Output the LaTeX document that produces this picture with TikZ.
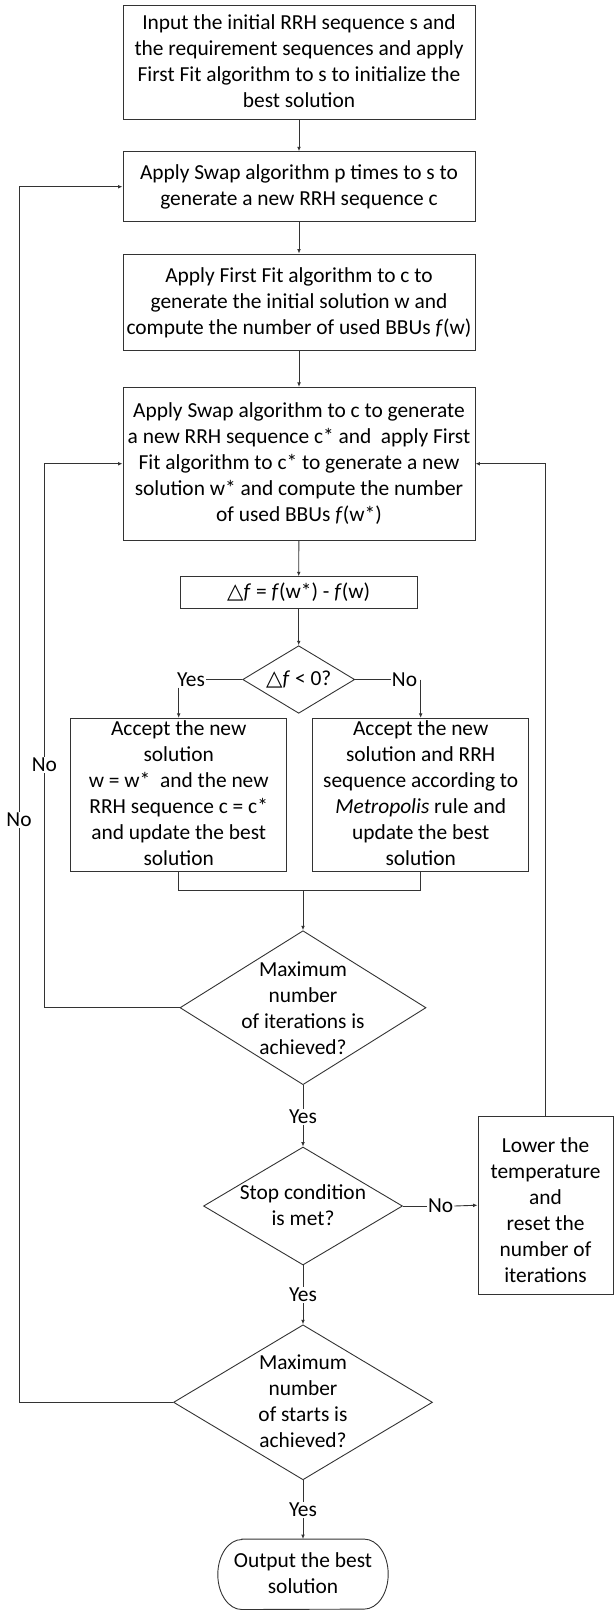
\documentclass[tikz,border=0pt]{standalone}
\usepackage{fontspec}
\setmainfont{Carlito}
\newfontfamily\dvfont{DejaVu Sans}
\usetikzlibrary{arrows.meta,shapes.geometric}
\newcommand{\tri}{{\dvfont △}}
\newcommand{\dlab}[3][0]{\makebox[0pt]{\raisebox{\dimexpr 13pt*\numexpr#2-1\relax-6pt-#1pt\relax}[0pt][0pt]{\begin{tabular}[t]{@{}c@{}}#3\end{tabular}}}}
\tikzset{
  ln/.style={line width=0.9pt, draw=black!80},
  arr/.style={ln, -{Latex[length=4.5pt,width=3.8pt]}},
  box/.style={ln, rectangle, inner sep=0pt},
  dia/.style={ln, diamond, inner sep=0pt},
  lbl/.style={inner sep=1pt},
}
\begin{document}
\begin{tikzpicture}[x=1pt,y=-1pt,font=\fontsize{21.4}{26}\selectfont]
\useasboundingbox (0,0) rectangle (614,1610);
% boxes
\node[box, minimum width=352pt, minimum height=114.3pt] (b1) at (299,62.2)
  {\dlab{4}{Input the initial RRH sequence s and\\the requirement sequences and apply\\First Fit algorithm to s to initialize the\\best solution}};
\node[box, minimum width=352pt, minimum height=70pt] (b2) at (299,186.7)
  {\dlab{2}{Apply Swap algorithm p times to s to\\generate a new RRH sequence c}};
\node[box, minimum width=352pt, minimum height=96pt] (b3) at (299,302)
  {\dlab{3}{Apply First Fit algorithm to c to\\generate the initial solution w and\\compute the number of used BBUs \textit{f}(w)}};
\node[box, minimum width=352pt, minimum height=152.7pt] (b4) at (299,463.7)
  {\dlab{5}{Apply Swap algorithm to c to generate\\a new RRH sequence c* and~ apply First\\Fit algorithm to c* to generate a new\\solution w* and compute the number\\of used BBUs \textit{f}(w*)}};
\node[box, minimum width=236.7pt, minimum height=31.6pt] (b5) at (298.7,592.5)
  {\dlab{1}{\tri\textit{f} = \textit{f}(w*) - \textit{f}(w)}};
\node[dia, minimum width=112pt, minimum height=67.6pt] (d1) at (298.7,679.5)
  {\dlab{1}{\tri\textit{f} < 0?}};
\node[box, minimum width=216pt, minimum height=152.7pt] (aL) at (178.7,794.7)
  {\dlab{6}{Accept the new\\solution\\w = w*~ and the new\\RRH sequence c = c*\\and update the best\\solution}};
\node[box, minimum width=216pt, minimum height=152.7pt] (aR) at (420.7,794.7)
  {\dlab{6}{Accept the new\\solution and RRH\\sequence according to\\\textit{Metropolis} rule and\\update the best\\solution}};
\coordinate (m) at (303,890);
\node[dia, minimum width=246pt, minimum height=154pt] (d2) at (303,1007.7)
  {\dlab[2]{4}{Maximum\\number\\of iterations is\\achieved?}};
\node[dia, minimum width=199pt, minimum height=118pt] (d3) at (303,1206)
  {\dlab{2}{Stop condition\\is met?}};
\node[box, minimum width=135pt, minimum height=178.3pt] (lb) at (545.5,1205.2)
  {\dlab[6]{6}{Lower the\\temperature\\and\\reset the\\number of\\iterations}};
\node[dia, minimum width=259pt, minimum height=155pt] (d4) at (303,1402.3)
  {\dlab{4}{Maximum\\number\\of starts is\\achieved?}};
\node[rectangle, inner sep=0pt, minimum width=170pt, minimum height=70pt] (t) at (303,1574.3)
  {\dlab{2}{Output the best\\solution}};
\draw[ln] ([xshift=24pt]t.north west) -- ([xshift=-24pt]t.north east)
  arc[start angle=90, end angle=-90, x radius=24pt, y radius=35pt]
  -- ([xshift=24pt]t.south west)
  arc[start angle=270, end angle=90, x radius=24pt, y radius=35pt] -- cycle;
% main flow
\draw[arr] (b1) -- (b2);
\draw[arr] (b2) -- (b3);
\draw[arr] (b3) -- (b4);
\draw[arr] (b4) -- (b5);
\draw[arr] (b5) -- (d1);
\node[lbl] (y1) at (191,679.5) {Yes};
\node[lbl] (n1) at (404.5,679.5) {No};
\draw[ln] (d1.west) -- (y1.east);
\draw[arr] (y1.south -| aL.north) -- (aL.north);
\draw[ln] (d1.east) -- (n1.west);
\draw[arr] (n1.east -| aR.north) -- (aR.north);
\draw[ln] (aL.south) |- (m) -| (aR.south);
\draw[arr] (m) -- (d2.north);
\node[lbl] (y2) at (303,1116.7) {Yes};
\draw[ln] (d2.south) -- (y2.north);
\draw[arr] (y2.south) -- (d3.north);
\node[lbl] (y3) at (303,1295) {Yes};
\draw[ln] (d3.south) -- (y3.north);
\draw[arr] (y3.south) -- (d4.north);
\node[lbl] (y4) at (303,1510) {Yes};
\draw[ln] (d4.south) -- (y4.north);
\draw[arr] (y4.south) -- (t.north);
\node[lbl] (n3) at (440.7,1206) {No};
\draw[ln] (d3.east) -- (n3.west);
\draw[arr] (n3.east) -- (lb.west);
% loops
\draw[arr] (lb.north) |- (b4.east);
\coordinate (il) at (44.3,1007.7);
\draw[arr] (d2.west) -- (il) |- (b4.west);
\node[lbl, fill=white] (nl1) at (44.3,765) {No};
\coordinate (ol) at (19,1402.3);
\draw[arr] (d4.west) -- (ol) |- (b2.west);
\node[lbl, fill=white] (nl2) at (19,820) {No};
\end{tikzpicture}
\end{document}
